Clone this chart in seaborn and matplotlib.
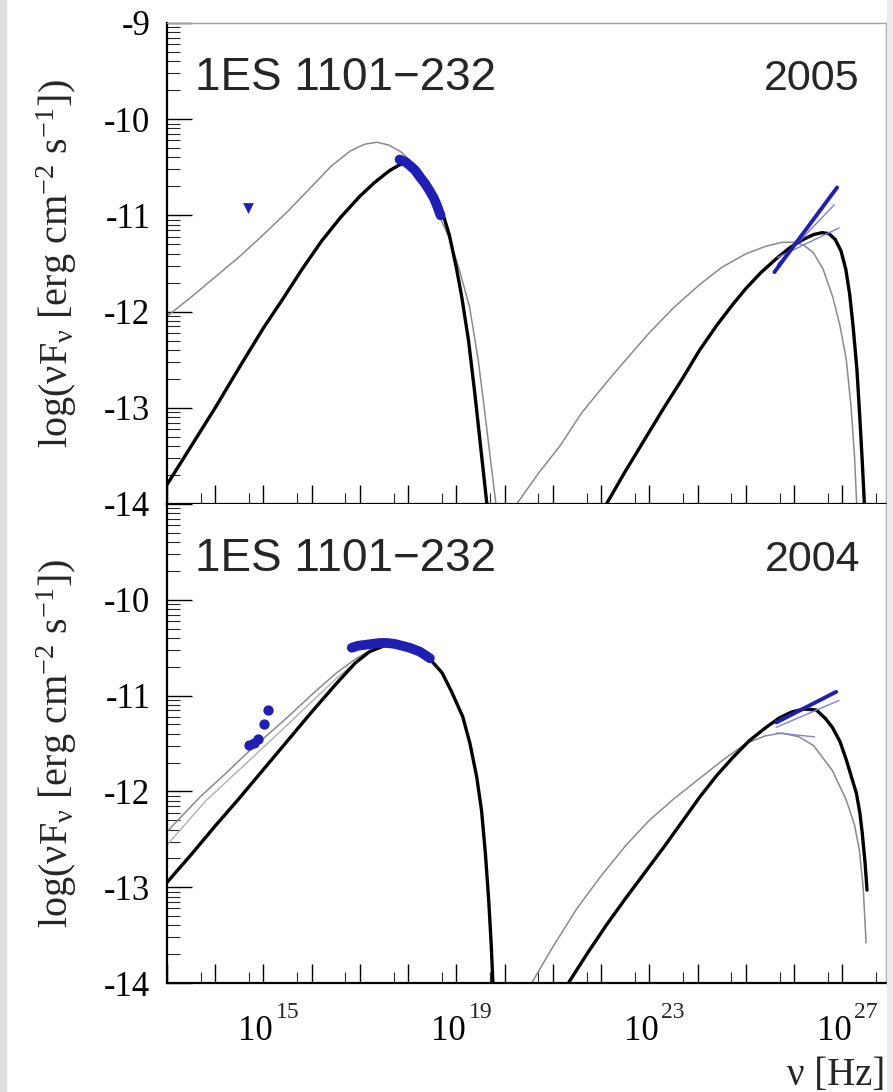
import numpy as np
import pandas as pd
import matplotlib
matplotlib.use("Agg")
import matplotlib.pyplot as plt
import matplotlib.transforms as mtransforms
from matplotlib.patches import Rectangle
from matplotlib.ticker import FixedLocator, FuncFormatter, LogLocator, NullFormatter
import seaborn as sns

# ---------------- data (log10 nu [Hz], log10 nuFnu) ----------------
# 2005
syn_thick_05_x = [13.0, 13.5, 14.0, 14.5, 15.0, 15.4, 15.8, 16.2, 16.6, 17.0, 17.3, 17.6, 17.8, 17.95, 18.1, 18.25, 18.45, 18.6, 18.71, 18.85, 19.0, 19.11, 19.25, 19.38, 19.5, 19.63, 19.68]
syn_thick_05_y = [-13.80, -13.40, -13.00, -12.58, -12.17, -11.87, -11.56, -11.27, -11.02, -10.80, -10.66, -10.54, -10.48, -10.45, -10.47, -10.55, -10.70, -10.86, -10.97, -11.20, -11.55, -11.85, -12.30, -12.85, -13.40, -14.0, -14.2]
syn_thin_05_x = [13.0, 13.5, 14.0, 14.5, 15.0, 15.5, 16.0, 16.4, 16.8, 17.1, 17.35, 17.6, 17.85, 18.05, 18.25, 18.45, 18.65, 18.86, 19.05, 19.27, 19.45, 19.6, 19.72, 19.83, 19.88]
syn_thin_05_y = [-12.05, -11.85, -11.64, -11.43, -11.20, -10.96, -10.70, -10.49, -10.33, -10.26, -10.24, -10.27, -10.34, -10.44, -10.58, -10.78, -11.01, -11.25, -11.55, -11.95, -12.50, -13.10, -13.60, -14.05, -14.3]
ic_thick_05_x = [22.11, 22.5, 22.9, 23.3, 23.68, 24.04, 24.4, 24.72, 25.0, 25.3, 25.63, 25.9, 26.15, 26.4, 26.58, 26.72, 26.85, 26.97, 27.07, 27.15, 27.22, 27.3, 27.36, 27.41, 27.46]
ic_thick_05_y = [-14.0, -13.66, -13.33, -13.0, -12.70, -12.40, -12.14, -11.93, -11.76, -11.60, -11.45, -11.34, -11.26, -11.20, -11.18, -11.19, -11.25, -11.37, -11.56, -11.82, -12.15, -12.60, -13.10, -13.55, -14.05]
ic_thin_05_x = [20.25, 20.7, 21.14, 21.6, 22.17, 22.6, 23.0, 23.5, 24.04, 24.5, 25.0, 25.42, 25.75, 26.0, 26.2, 26.4, 26.6, 26.8, 26.95, 27.08, 27.18, 27.25, 27.3]
ic_thin_05_y = [-14.0, -13.68, -13.40, -13.05, -12.70, -12.45, -12.22, -11.96, -11.72, -11.54, -11.40, -11.32, -11.28, -11.28, -11.31, -11.39, -11.56, -11.85, -12.15, -12.50, -13.00, -13.50, -14.05]
xray_05_x = [17.82, 17.93, 18.03, 18.14, 18.24, 18.35, 18.45, 18.53, 18.59, 18.67]
xray_05_y = [-10.42, -10.44, -10.48, -10.53, -10.60, -10.67, -10.75, -10.82, -10.89, -11.0]
uplim_05_x = [14.68]
uplim_05_y = [-10.92]
tev_05_x = [25.59, 26.89]
tev_05_y = [-11.59, -10.71]
bfly_05a_x = [25.65, 26.83]
bfly_05a_y = [-11.51, -10.89]
bfly_05b_x = [25.65, 26.93]
bfly_05b_y = [-11.44, -11.13]

# 2004
syn_thick_04_x = [13.0, 13.5, 14.0, 14.5, 15.0, 15.5, 16.0, 16.5, 16.9, 17.2, 17.5, 17.8, 18.1, 18.4, 18.7, 18.9, 19.13, 19.28, 19.42, 19.52, 19.6, 19.67, 19.72, 19.76, 19.8]
syn_thick_04_y = [-12.95, -12.66, -12.36, -12.07, -11.77, -11.47, -11.17, -10.88, -10.66, -10.54, -10.48, -10.46, -10.50, -10.59, -10.76, -10.96, -11.22, -11.50, -11.85, -12.20, -12.65, -13.15, -13.60, -14.05, -14.4]
syn_thin_04a_x = [13.0, 13.68, 14.2, 14.72, 15.40, 16.11, 16.52, 16.93, 17.20]
syn_thin_04a_y = [-12.42, -12.06, -11.82, -11.57, -11.27, -10.94, -10.76, -10.61, -10.53]
syn_thin_04b_x = [13.0, 13.8, 14.72, 15.4, 16.11, 16.6, 16.93]
syn_thin_04b_y = [-12.56, -12.10, -11.67, -11.35, -11.01, -10.78, -10.65]
ic_thick_04_x = [21.32, 21.7, 22.1, 22.5, 22.9, 23.3, 23.7, 24.04, 24.4, 24.72, 25.07, 25.42, 25.7, 25.95, 26.2, 26.46, 26.65, 26.79, 26.95, 27.08, 27.2, 27.29, 27.36, 27.41, 27.47, 27.51]
ic_thick_04_y = [-14.0, -13.70, -13.40, -13.12, -12.85, -12.58, -12.30, -12.06, -11.83, -11.65, -11.47, -11.33, -11.23, -11.17, -11.14, -11.15, -11.24, -11.33, -11.48, -11.67, -11.87, -12.02, -12.22, -12.43, -12.75, -13.03]
ic_thin_04_x = [20.56, 21.0, 21.5, 22.0, 22.5, 23.0, 23.5, 24.0, 24.5, 25.0, 25.4, 25.75, 26.1, 26.4, 26.79, 27.08, 27.25, 27.35, 27.43, 27.49]
ic_thin_04_y = [-14.0, -13.62, -13.22, -12.88, -12.57, -12.30, -12.08, -11.88, -11.68, -11.50, -11.42, -11.39, -11.43, -11.52, -11.78, -12.09, -12.35, -12.61, -13.0, -13.58]
xray_04_x = [16.83, 16.95, 17.10, 17.25, 17.41, 17.56, 17.72, 17.88, 18.03, 18.24, 18.45]
xray_04_y = [-10.50, -10.48, -10.47, -10.46, -10.45, -10.45, -10.46, -10.48, -10.50, -10.54, -10.61]
opt_04_x = [15.09, 15.01, 14.88, 14.80, 14.70]
opt_04_y = [-11.15, -11.30, -11.45, -11.49, -11.52]
tev_04_x = [25.63, 26.87]
tev_04_y = [-11.28, -10.96]
bfly_04a_x = [25.63, 26.93]
bfly_04a_y = [-11.33, -11.05]
bfly_04b_x = [25.63, 26.42]
bfly_04b_y = [-11.39, -11.43]

source_name = "1ES 1101\u2212232"
years = ["2005", "2004"]
x_major_exp = list(range(13, 28))
x_label_exp = [15, 19, 23, 27]
y_major_exp = [-14, -13, -12, -11, -10, -9]

# ---------------- style ----------------
sns.set_theme(style="ticks")
plt.rcParams['font.family'] = ['Liberation Serif', 'DejaVu Serif']
plt.rcParams['mathtext.fontset'] = 'custom'
plt.rcParams['mathtext.rm'] = 'Liberation Serif'
plt.rcParams['mathtext.it'] = 'Liberation Serif:italic'
plt.rcParams['mathtext.bf'] = 'Liberation Serif:bold'

BLUE = '#1f1fb4'
LBLUE = '#7f7fe0'
GRAY = '#8a8a8a'

fig = plt.figure(figsize=(8.93, 10.92), dpi=100, facecolor='white')
fig.patches.append(Rectangle((0, 0), 6 / 893, 1, transform=fig.transFigure, color='#dedede', zorder=0))
fig.patches.append(Rectangle((887 / 893, 0), 6 / 893, 1, transform=fig.transFigure, color='#ececec', zorder=0))

ax1 = fig.add_axes([0.187, 0.5385, 0.805, 0.4405])
ax2 = fig.add_axes([0.187, 0.0998, 0.805, 0.4386])


def line(ax, xs, ys, color, lw, z=2):
    df = pd.DataFrame({'nu': 10 ** np.asarray(xs, float), 'f': 10 ** np.asarray(ys, float)})
    sns.lineplot(data=df, x='nu', y='f', ax=ax, color=color, lw=lw, sort=False,
                 estimator=None, zorder=z, solid_capstyle='round', solid_joinstyle='round')


def pts(ax, xs, ys, marker, s, color):
    df = pd.DataFrame({'nu': 10 ** np.asarray(xs, float), 'f': 10 ** np.asarray(ys, float)})
    sns.scatterplot(data=df, x='nu', y='f', ax=ax, marker=marker, s=s, color=color,
                    edgecolor=color, linewidth=0, zorder=5)


for ax in (ax1, ax2):
    ax.set_xscale('log')
    ax.set_yscale('log')

# top panel
line(ax1, syn_thin_05_x, syn_thin_05_y, GRAY, 1.1)
line(ax1, ic_thin_05_x, ic_thin_05_y, GRAY, 1.1)
line(ax1, syn_thick_05_x, syn_thick_05_y, 'black', 2.4, 3)
line(ax1, ic_thick_05_x, ic_thick_05_y, 'black', 2.4, 3)
line(ax1, bfly_05a_x, bfly_05a_y, LBLUE, 1.0, 4)
line(ax1, bfly_05b_x, bfly_05b_y, LBLUE, 1.0, 4)
line(ax1, tev_05_x, tev_05_y, BLUE, 2.8, 4)
line(ax1, xray_05_x, xray_05_y, BLUE, 7, 4)
pts(ax1, uplim_05_x, uplim_05_y, 'v', 60, BLUE)

# bottom panel
line(ax2, syn_thin_04b_x, syn_thin_04b_y, '#b0b0b0', 1.0)
line(ax2, syn_thin_04a_x, syn_thin_04a_y, GRAY, 1.1)
line(ax2, ic_thin_04_x, ic_thin_04_y, GRAY, 1.1)
line(ax2, syn_thick_04_x, syn_thick_04_y, 'black', 2.4, 3)
line(ax2, ic_thick_04_x, ic_thick_04_y, 'black', 2.4, 3)
line(ax2, bfly_04a_x, bfly_04a_y, LBLUE, 1.0, 4)
line(ax2, bfly_04b_x, bfly_04b_y, LBLUE, 1.0, 4)
line(ax2, tev_04_x, tev_04_y, BLUE, 2.8, 4)
line(ax2, xray_04_x, xray_04_y, BLUE, 7, 4)
pts(ax2, opt_04_x, opt_04_y, 'o', 55, BLUE)

ylab = "log(\u03bdF$_{\\mathrm{\u03bd}}$ [erg cm$^{-2}$ s$^{-1}$])"
for i, ax in enumerate((ax1, ax2)):
    ax.set_xlim(10 ** 13, 10 ** 27.9)
    ax.set_ylim(1e-14, 1e-9)
    ax.xaxis.set_major_locator(FixedLocator([10.0 ** e for e in x_major_exp]))
    ax.xaxis.set_minor_locator(FixedLocator([5 * 10.0 ** e for e in x_major_exp]))
    ax.yaxis.set_major_locator(FixedLocator([10.0 ** e for e in y_major_exp]))
    ax.yaxis.set_minor_locator(LogLocator(base=10, subs=np.arange(2, 10)))
    ax.xaxis.set_minor_formatter(NullFormatter())
    ax.yaxis.set_minor_formatter(NullFormatter())

    def yfmt(v, pos, hide_top=(i == 1)):
        e = int(round(np.log10(v)))
        if hide_top and e == -9:
            return ""
        return "%d" % e
    ax.yaxis.set_major_formatter(FuncFormatter(yfmt))

    def xfmt(v, pos, show=(i == 1)):
        e = int(round(np.log10(v)))
        if show and e in x_label_exp:
            return "10"
        return ""
    ax.xaxis.set_major_formatter(FuncFormatter(xfmt))

    ax.tick_params(axis='y', which='major', direction='in', length=18, width=1.0,
                   labelsize=25, pad=12, colors='black')
    ax.tick_params(axis='y', which='minor', direction='in', length=9, width=0.8)
    ax.tick_params(axis='x', which='major', direction='in', length=14, width=1.0,
                   labelsize=25, pad=23, colors='black')
    ax.tick_params(axis='x', which='minor', direction='in', length=8, width=0.8)
    ax.tick_params(top=False, right=False)

    for s in ('left', 'bottom'):
        ax.spines[s].set_color('black')
        ax.spines[s].set_linewidth(1.6)
    ax.spines['right'].set_color('#a0a0a0')
    ax.spines['right'].set_linewidth(1.0)
    ax.spines['top'].set_color('#a0a0a0')
    ax.spines['top'].set_linewidth(1.0)
    ax.set_xlabel("")
    ax.set_ylabel(ylab, fontsize=29)
    ax.yaxis.set_label_coords(-0.122, 0.5)
    ax.set_facecolor('white')

    ax.text(0.039, 0.86, source_name, transform=ax.transAxes, fontsize=33,
            family='Liberation Sans', ha='left', va='baseline')
    ax.text(0.964, 0.86, years[i], transform=ax.transAxes, fontsize=31,
            family='Liberation Sans', ha='right', va='baseline')

ax2.spines['top'].set_visible(False)

# "10" labels shifted left a little, exponents drawn as separate superscript texts
offset = mtransforms.ScaledTranslation(-8 / 100, 0, fig.dpi_scale_trans)
for lab in ax2.get_xticklabels():
    lab.set_transform(lab.get_transform() + offset)
exp_tr = mtransforms.blended_transform_factory(ax2.transData, ax2.transAxes) + \
    mtransforms.ScaledTranslation(12 / 100, -35 / 100, fig.dpi_scale_trans)
for e in x_label_exp:
    ax2.text(10.0 ** e, 0, "%d" % e, transform=exp_tr, fontsize=17,
             ha='left', va='baseline', clip_on=False)

fig.text(0.991, 1 - 1075 / 1092, "\u03bd [Hz]", fontsize=28, ha='right', va='center')

fig.savefig("out.png", dpi=100, facecolor='white')
